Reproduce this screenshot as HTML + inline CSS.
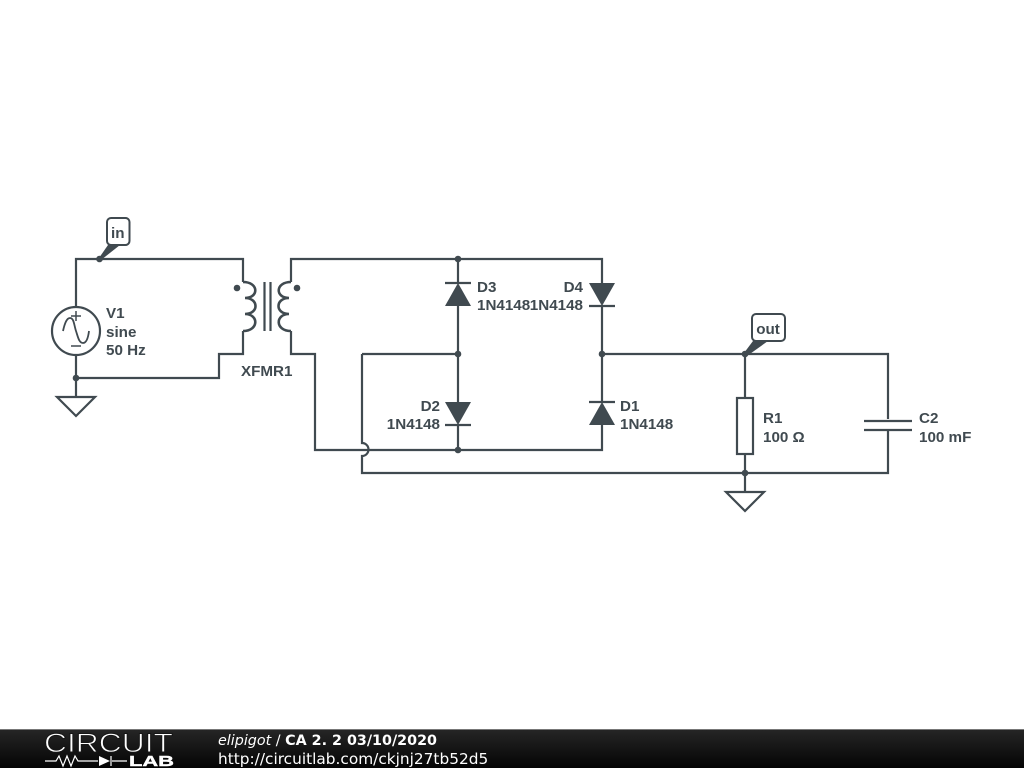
<!DOCTYPE html>
<html><head><meta charset="utf-8"><style>
html,body{margin:0;padding:0;background:#fff;width:1024px;height:768px;overflow:hidden}
svg{display:block}
.w{fill:none;stroke:#404a50;stroke-width:2.2;stroke-linejoin:miter}
.d{fill:#404a50}
.t{font-family:"Liberation Sans",sans-serif;font-weight:bold;font-size:15.2px;fill:#404a50}
</style></head><body>
<svg width="1024" height="768" viewBox="0 0 1024 768" xmlns="http://www.w3.org/2000/svg">
<defs><linearGradient id="g" x1="0" y1="0" x2="0" y2="1"><stop offset="0" stop-color="#262626"/><stop offset="1" stop-color="#040404"/></linearGradient></defs>
<!-- wires -->
<path class="w" d="M76 307V259H243V282M243 331V354H219V378H76M76 355V397"/>
<path class="w" d="M291 282V259H602V283M291 331V354H315V450H602V425M458 259V283M458 306V402M458 425V450M602 306V402M362 354H458M602 354H888V419M888 431V473H362V456A6.500 6.500 0 0 0 362 443V354M745 354V398M745 454V492"/>
<!-- ground -->
<path class="w" d="M57 397H95L76 416Z"/>
<path class="w" d="M726 492H764L745 511Z"/>
<!-- source -->
<circle class="w" cx="76" cy="331" r="24"/>
<path class="w" style="stroke-width:1.800" d="M63 331C65 322 67 318 70 318C74 318 74 325 76 331C78 337 79 343 83 343C86 343 88 339 89 331"/>
<path class="w" style="stroke-width:1.500" d="M71 316H81M76 311V321M71 346H81"/>
<!-- transformer -->
<path class="w" style="stroke-width:2.600" d="M243 282C259 282 259 298 245 298M245 298C259 298 259 314 245 314M245 314C259 314 259 331 243 331"/>
<path class="w" style="stroke-width:2.600" d="M291 282C275 282 275 298 289 298M289 298C275 298 275 314 289 314M289 314C275 314 275 331 291 331"/>
<path class="w" d="M264.500 282V331M270.500 282V331"/>
<circle class="d" cx="237" cy="288" r="3.300"/><circle class="d" cx="297" cy="288" r="3.300"/>
<!-- diodes -->
<path class="d" d="M458 283L471 306H445Z"/><path class="w" d="M445 283H471"/>
<path class="d" d="M445 402H471L458 425Z"/><path class="w" d="M445 425H471"/>
<path class="d" d="M589 283H615L602 306Z"/><path class="w" d="M589 306H615"/>
<path class="d" d="M602 402L615 425H589Z"/><path class="w" d="M589 402H615"/>
<!-- resistor & cap -->
<rect class="w" x="737" y="398" width="16" height="56"/>
<path class="w" d="M864 421H912M864 430H912"/>
<!-- junctions -->
<g class="d"><circle cx="99.500" cy="259" r="3.300"/><circle cx="76" cy="378" r="3.300"/><circle cx="458" cy="259" r="3.300"/><circle cx="458" cy="354" r="3.300"/><circle cx="602" cy="354" r="3.300"/><circle cx="458" cy="450" r="3.300"/><circle cx="745" cy="354" r="3.300"/><circle cx="745" cy="473" r="3.300"/></g>
<!-- net labels -->
<path class="d" d="M99 258L108 245H120L101 260Z"/>
<rect x="107" y="218" width="22.500" height="27" rx="4" fill="#fff" stroke="#404a50" stroke-width="2"/>
<text class="t" x="117.800" y="238" text-anchor="middle">in</text>
<path class="d" d="M744 353L753 341H768L747 356Z"/>
<rect x="752" y="314" width="33" height="27" rx="4" fill="#fff" stroke="#404a50" stroke-width="2"/>
<text class="t" x="768" y="334" text-anchor="middle">out</text>
<!-- labels -->
<text class="t" x="106" y="318">V1</text><text class="t" x="106" y="337">sine</text><text class="t" x="106" y="355">50 Hz</text>
<text class="t" x="241" y="376">XFMR1</text>
<text class="t" x="477" y="292">D3</text><text class="t" x="477" y="310">1N4148</text>
<text class="t" x="583" y="292" text-anchor="end">D4</text><text class="t" x="583" y="310" text-anchor="end">1N4148</text>
<text class="t" x="440" y="411" text-anchor="end">D2</text><text class="t" x="440" y="429" text-anchor="end">1N4148</text>
<text class="t" x="620" y="411">D1</text><text class="t" x="620" y="429">1N4148</text>
<text class="t" x="763" y="423">R1</text><text class="t" x="763" y="442">100 Ω</text>
<text class="t" x="919" y="423">C2</text><text class="t" x="919" y="442">100 mF</text>
<!-- footer -->
<rect x="0" y="729" width="1024" height="39" fill="url(#g)"/>
<rect x="0" y="729" width="1024" height="1" fill="#777"/>
<text x="44" y="752" font-family="'Liberation Sans',sans-serif" font-size="27" fill="#fff" stroke="#161616" stroke-width="0.900" textLength="129" lengthAdjust="spacingAndGlyphs">CIRCUIT</text>
<path d="M45 761H56L59 756L63 766L67 756L71 766L75 756L78 761H98M112 761H127M111 756V766" fill="none" stroke="#fff" stroke-width="1.200"/>
<path d="M99 756L110 761L99 766Z" fill="#fff"/>
<text x="129" y="766" font-family="'Liberation Sans',sans-serif" font-weight="bold" font-size="15" fill="#fff" stroke="#fff" stroke-width="0.400" textLength="45" lengthAdjust="spacingAndGlyphs">LAB</text>
<text x="218" y="745" font-family="'DejaVu Sans',sans-serif" font-size="14.300" fill="#fff"><tspan font-style="italic">elipigot</tspan> / <tspan font-weight="bold">CA 2. 2 03/10/2020</tspan></text>
<text x="218" y="764" font-family="'DejaVu Sans',sans-serif" font-size="15.350" fill="#fff">http://circuitlab.com/ckjnj27tb52d5</text>
</svg>
</body></html>
